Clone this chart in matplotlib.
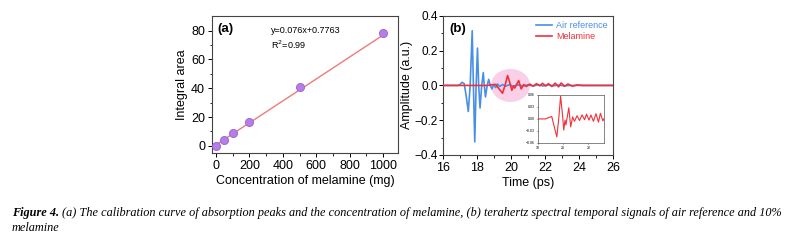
import numpy as np
import matplotlib
matplotlib.use('Agg')
import matplotlib.pyplot as plt
from matplotlib.patches import Ellipse

plt.rcParams['font.family'] = ['Liberation Sans', 'DejaVu Sans']

# (a) calibration data
conc = [0, 50, 100, 200, 500, 1000]
area = [0.0, 4.3, 8.7, 16.2, 40.8, 78.1]
slope, intercept = 0.076, 0.7763

# (b) time-domain signals (extrema and zero crossings)
t_air = [16.0, 16.9, 17.0, 17.12, 17.25, 17.35, 17.49, 17.6, 17.72, 17.79, 17.87,
         17.95, 18.03, 18.1, 18.18, 18.28, 18.37, 18.43, 18.5, 18.6, 18.69, 18.78,
         18.88, 18.98, 19.1, 19.2, 19.35, 19.5, 19.7, 19.9, 20.1, 20.4, 20.7, 21.0,
         21.3, 21.6, 21.9, 22.2, 22.5, 22.8, 23.1, 23.5, 26.0]
a_air = [0.0, 0.0, 0.005, 0.018, 0.01, -0.05, -0.15, 0.0, 0.315, 0.0, -0.325,
         0.0, 0.215, 0.0, -0.13, 0.0, 0.074, 0.0, -0.066, 0.0, 0.035, 0.0,
         -0.02, 0.005, -0.012, 0.008, -0.006, 0.005, -0.004, 0.004, -0.004, 0.003, -0.003, 0.003,
         -0.003, 0.003, -0.003, 0.003, -0.002, 0.002, -0.002, 0.0, 0.0]

t_mel = [16.0, 18.6, 18.9, 19.1, 19.3, 19.5, 19.65, 19.8, 19.95, 20.05, 20.15,
         20.22, 20.45, 20.6, 20.75, 20.9, 21.1, 21.3, 21.5, 21.7, 21.85, 22.05,
         22.2, 22.4, 22.6, 22.8, 22.95, 23.15, 23.35, 23.6, 23.9, 24.2, 26.0]
a_mel = [0.0, 0.0, 0.004, 0.006, -0.02, -0.045, 0.0, 0.057, 0.01, -0.028, -0.003,
         -0.015, 0.028, -0.02, 0.005, -0.006, 0.008, -0.004, 0.01, -0.002, 0.012, -0.003,
         0.01, -0.006, 0.013, -0.008, 0.014, -0.005, 0.008, -0.004, 0.003, 0.0, 0.0]

blue = '#4a8fe6'
red = '#f0303a'

fig = plt.figure(figsize=(7.91, 2.41), dpi=100)

# ---- panel (a)
ax1 = fig.add_axes([0.268, 0.365, 0.235, 0.568])
xs = np.array([0, 1000])
ax1.plot(xs, slope * xs + intercept, color='#f07a7a', lw=1.0, zorder=2)
ax1.scatter(conc, area, s=34, color='#b47ee6', edgecolor='#9a5fd6', lw=0.6, zorder=3)
ax1.set_xlim(-25, 1090)
ax1.set_ylim(-5, 90)
ax1.set_xticks([0, 200, 400, 600, 800, 1000])
ax1.set_yticks([0, 20, 40, 60, 80])
ax1.set_xticks(np.arange(100, 1100, 200), minor=True)
ax1.set_yticks(np.arange(10, 90, 20), minor=True)
ax1.set_xlabel('Concentration of melamine (mg)', fontsize=9, labelpad=2)
ax1.set_ylabel('Integral area', fontsize=9, labelpad=2)
ax1.text(0.03, 0.95, '(a)', transform=ax1.transAxes, fontsize=9.5,
         fontweight='bold', va='top')
ax1.text(330, 80, 'y=0.076x+0.7763', fontsize=6.5, va='center')
ax1.text(330, 70, 'R$^2$=0.99', fontsize=6.5, va='center')

# ---- panel (b)
ax2 = fig.add_axes([0.560, 0.357, 0.215, 0.577])
ax2.add_patch(Ellipse((19.97, 0.0), 2.3, 0.19, color='#f9c8e4', alpha=0.85, lw=0, zorder=1))
ax2.plot(t_air, a_air, color=blue, lw=1.2, label='Air reference', zorder=3)
ax2.plot(t_mel, a_mel, color=red, lw=1.2, label='Melamine', zorder=4)
ax2.set_xlim(16, 26)
ax2.set_ylim(-0.4, 0.4)
ax2.set_xticks([16, 18, 20, 22, 24, 26])
ax2.set_yticks([-0.4, -0.2, 0.0, 0.2, 0.4])
ax2.set_xticks(np.arange(17, 26, 2), minor=True)
ax2.set_yticks([-0.3, -0.1, 0.1, 0.3], minor=True)
ax2.set_xlabel('Time (ps)', fontsize=9, labelpad=2)
ax2.set_ylabel('Amplitude (a.u.)', fontsize=9)
ax2.yaxis.set_label_coords(-0.175, 0.5)
ax2.text(0.04, 0.95, '(b)', transform=ax2.transAxes, fontsize=9.5,
         fontweight='bold', va='top')
leg = ax2.legend(loc='upper right', frameon=False, fontsize=6.5, handlelength=1.8,
                 borderaxespad=0.2, labelspacing=0.2, handletextpad=0.4)
for txt, c in zip(leg.get_texts(), [blue, red]):
    txt.set_color(c)

# inset
ax3 = fig.add_axes([0.680, 0.407, 0.083, 0.199])
ax3.plot(t_mel, a_mel, color=red, lw=0.8)
ax3.set_xlim(18, 23.2)
ax3.set_ylim(-0.06, 0.06)
ax3.set_xticks([18, 20, 22])
ax3.set_yticks([-0.06, -0.03, 0.0, 0.03, 0.06])
ax3.tick_params(labelsize=2.5, length=1, width=0.4, pad=1)
for sp in ax3.spines.values():
    sp.set_linewidth(0.5)
    sp.set_color('#555555')

for ax in (ax1, ax2):
    ax.tick_params(which='major', labelsize=9, length=3, width=0.7, pad=2)
    ax.tick_params(which='minor', length=1.8, width=0.6)
    for sp in ax.spines.values():
        sp.set_linewidth(0.8)
        sp.set_color('#444444')
ax2.tick_params(axis='y', which='major', pad=0.5, labelsize=8.5)

cap1 = ('(a) The calibration curve of absorption peaks and the concentration of melamine, '
        '(b) terahertz spectral temporal signals of air reference and 10%')
capfont = dict(fontsize=8.85, family='Liberation Serif', style='italic', va='center')
lead = fig.text(0.015, 0.118, 'Figure 4.', fontweight='bold', **capfont)
fig.canvas.draw()
bb = lead.get_window_extent().transformed(fig.transFigure.inverted())
fig.text(bb.x1 + 0.004, 0.118, cap1, **capfont)
fig.text(0.015, 0.052, 'melamine', **capfont)

fig.savefig('out.png', dpi=100)
